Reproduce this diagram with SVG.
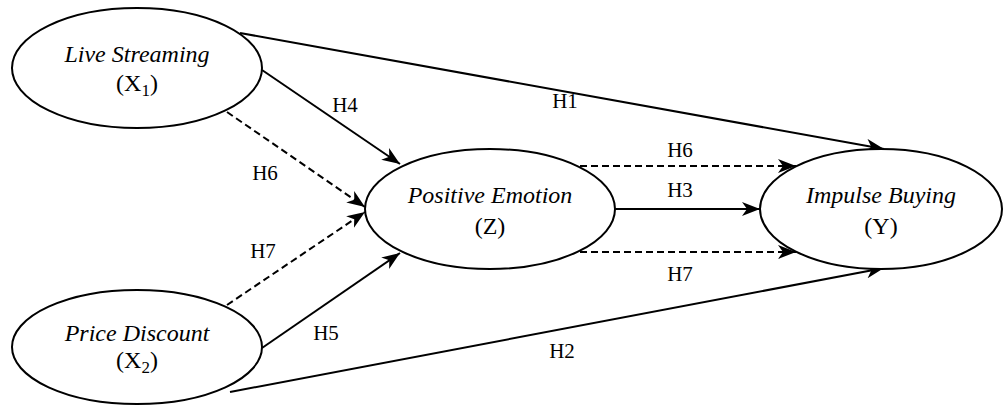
<svg xmlns="http://www.w3.org/2000/svg" width="1003" height="405" viewBox="0 0 1003 405">
<style>
.node ellipse{fill:#fff;stroke:#000;stroke-width:2}
text{fill:#000;text-anchor:middle}
.nm{font-size:24px;font-style:italic}
.sym{font-size:24px}
.lbl{font-size:21px}
.ln{stroke:#000;stroke-width:2;fill:none;marker-end:url(#ah)}
.dash{stroke-dasharray:7 4}
</style>
<defs>
<marker id="ah" markerUnits="userSpaceOnUse" markerWidth="20" markerHeight="16" refX="18" refY="7" orient="auto">
<path d="M0,0 L18,7 L0,14 L5,7 z" fill="#000"/>
</marker>
</defs>
<g id="connectors">
<line class="ln" x1="240" y1="33" x2="884" y2="149"/>
<line class="ln" x1="262" y1="70" x2="400" y2="164"/>
<line class="ln dash" x1="227" y1="112" x2="365" y2="207"/>
<line class="ln dash" x1="227" y1="305" x2="365" y2="212"/>
<line class="ln" x1="262" y1="348" x2="400" y2="253"/>
<line class="ln" x1="230" y1="392" x2="884" y2="268"/>
<line class="ln dash" x1="580" y1="166" x2="796" y2="166"/>
<line class="ln" x1="615" y1="209" x2="760" y2="209"/>
<line class="ln dash" x1="580" y1="252" x2="796" y2="252"/>
<text class="lbl" font-family="Liberation Serif" x="565" y="108">H1</text>
<text class="lbl" font-family="Liberation Serif" x="345" y="112">H4</text>
<text class="lbl" font-family="Liberation Serif" x="265" y="180">H6</text>
<text class="lbl" font-family="Liberation Serif" x="263" y="258">H7</text>
<text class="lbl" font-family="Liberation Serif" x="326" y="340">H5</text>
<text class="lbl" font-family="Liberation Serif" x="562" y="358">H2</text>
<text class="lbl" font-family="Liberation Serif" x="680" y="157">H6</text>
<text class="lbl" font-family="Liberation Serif" x="680" y="197">H3</text>
<text class="lbl" font-family="Liberation Serif" x="680" y="281">H7</text>
</g>
<g id="X1" class="node">
<ellipse cx="137" cy="68" rx="125" ry="60"/>
<text class="nm" font-family="Liberation Serif" x="137" y="62">Live Streaming</text>
<text class="sym" font-family="Liberation Serif" x="137" y="91">(X<tspan font-size="17" dy="5">1</tspan><tspan dy="-5">)</tspan></text>
</g>
<g id="X2" class="node">
<ellipse cx="137" cy="347" rx="125" ry="57"/>
<text class="nm" font-family="Liberation Serif" x="137" y="341">Price Discount</text>
<text class="sym" font-family="Liberation Serif" x="137" y="368">(X<tspan font-size="17" dy="5">2</tspan><tspan dy="-5">)</tspan></text>
</g>
<g id="Z" class="node">
<ellipse cx="490" cy="209" rx="125" ry="60"/>
<text class="nm" font-family="Liberation Serif" x="490" y="203">Positive Emotion</text>
<text class="sym" font-family="Liberation Serif" x="490" y="234">(Z)</text>
</g>
<g id="Y" class="node">
<ellipse cx="881" cy="209" rx="121" ry="60"/>
<text class="nm" font-family="Liberation Serif" x="881" y="203">Impulse Buying</text>
<text class="sym" font-family="Liberation Serif" x="881" y="234">(Y)</text>
</g>
</svg>
